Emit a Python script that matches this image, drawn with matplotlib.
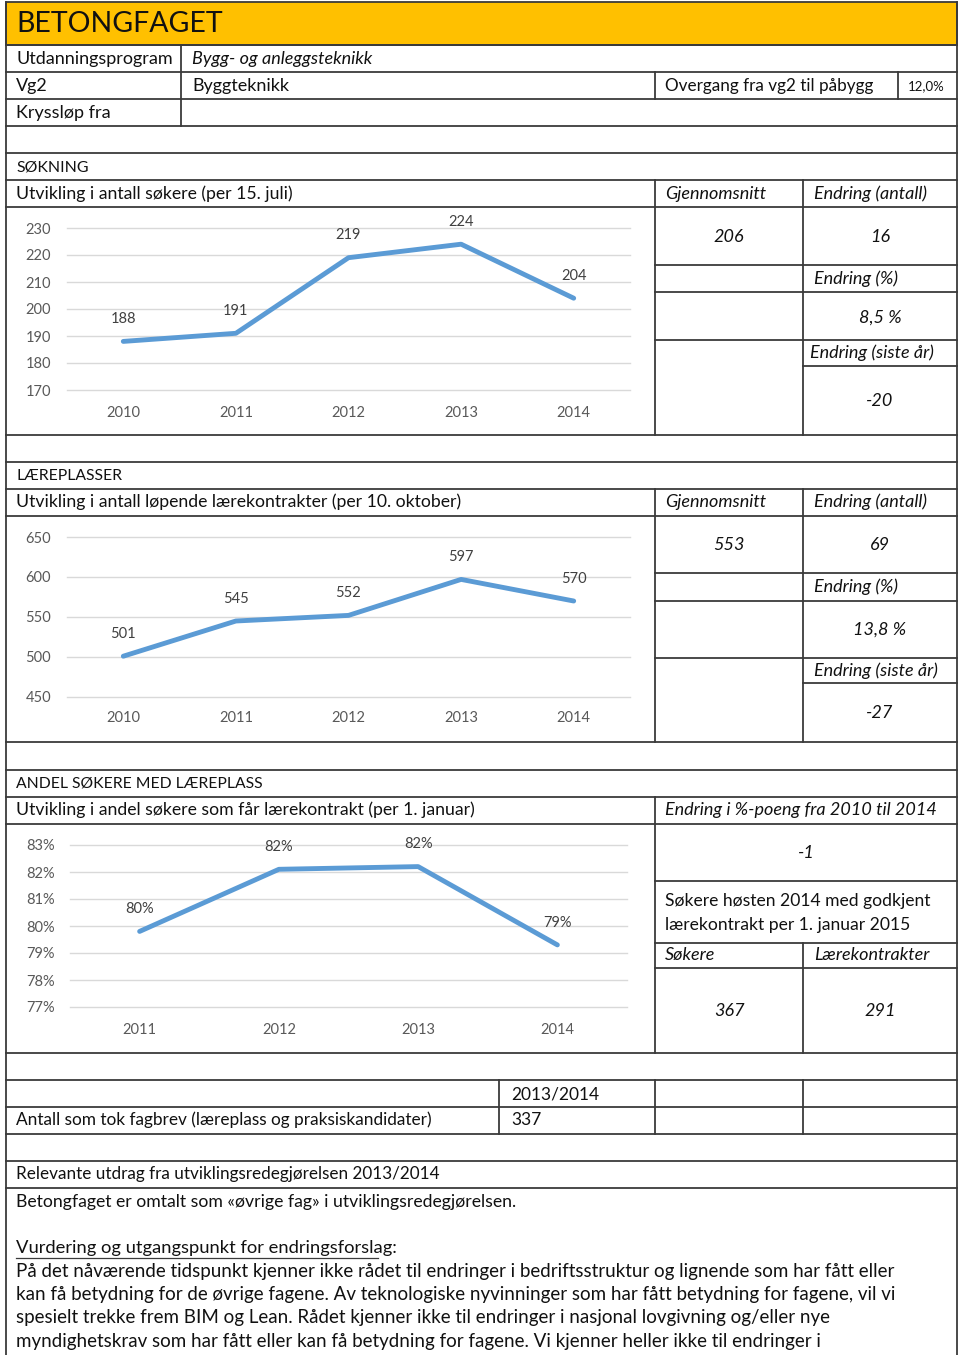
import matplotlib
matplotlib.use('Agg')
import numpy as np
import matplotlib.pyplot as plt
from matplotlib.patches import Rectangle
from matplotlib.ticker import FuncFormatter

plt.rcParams['font.family'] = ['Lato', 'DejaVu Sans']

# --- data ---
sok_years = ['2010', '2011', '2012', '2013', '2014']
sok_values = [188, 191, 219, 224, 204]
sok_stats = ['206', '16', '8,5 %', '-20']

lar_years = ['2010', '2011', '2012', '2013', '2014']
lar_values = [501, 545, 552, 597, 570]
lar_stats = ['553', '69', '13,8 %', '-27']

andel_years = ['2011', '2012', '2013', '2014']
andel_values = [0.798, 0.821, 0.822, 0.793]
andel_change = '-1'
andel_sokere = '367'
andel_kontrakter = '291'

fagbrev_year = '2013/2014'
fagbrev_count = '337'
overgang = '12,0%'

paragraph = [
    'På det nåværende tidspunkt kjenner ikke rådet til endringer i bedriftsstruktur og lignende som har fått eller',
    'kan få betydning for de øvrige fagene. Av teknologiske nyvinninger som har fått betydning for fagene, vil vi',
    'spesielt trekke frem BIM og Lean. Rådet kjenner ikke til endringer i nasjonal lovgivning og/eller nye',
    'myndighetskrav som har fått eller kan få betydning for fagene. Vi kjenner heller ikke til endringer i',
]

W, H = 960, 1355
LC = '#3a3a3a'
BLUE = '#5B9BD5'
FS = 13

fig = plt.figure(figsize=(9.6, 13.55), dpi=100)
base = fig.add_axes([0, 0, 1, 1])
base.set_xlim(0, W)
base.set_ylim(H, 0)
base.axis('off')


def hl(y, x0=6, x1=957, lw=1.3):
    base.plot([x0, x1], [y, y], color=LC, lw=lw, solid_capstyle='projecting')


def vl(x, y0, y1, lw=1.3):
    base.plot([x, x], [y0, y1], color=LC, lw=lw, solid_capstyle='projecting')


def txt(x, y, s, size=FS, style='normal', ha='left', **kw):
    base.text(x, y, s, fontsize=size, style=style, ha=ha, va='center', color='#111111', **kw)


def chart(x0, x1, y0, y1, cats, vals, lo, hi, step, fmt, pad):
    ax = fig.add_axes([x0 / W, 1 - y1 / H, (x1 - x0) / W, (y1 - y0) / H])
    xs = np.arange(len(cats))
    ax.plot(xs, vals, color=BLUE, lw=3.5, solid_capstyle='round',
            solid_joinstyle='round', zorder=3)
    ax.set_xlim(-0.5, len(cats) - 0.5)
    ax.set_ylim(lo, hi)
    ax.set_yticks(np.arange(lo, hi + step / 2, step))
    ax.yaxis.set_major_formatter(fmt)
    ax.set_xticks(xs)
    ax.set_xticklabels(cats)
    ax.grid(axis='y', color='#D9D9D9', lw=1)
    for g in ax.get_ygridlines():
        g.set_clip_on(False)
    for s in ax.spines.values():
        s.set_visible(False)
    ax.tick_params(axis='y', length=0, labelsize=10.5, colors='#595959', pad=pad[0])
    ax.tick_params(axis='x', length=0, labelsize=10.5, colors='#595959', pad=pad[1])
    ax.patch.set_alpha(0)
    for x, v in zip(xs, vals):
        ax.annotate(fmt(v, None), (x, v), xytext=(0, 16), textcoords='offset points',
                    ha='center', va='center', fontsize=10.5, color='#404040')
    return ax


# header
base.add_patch(Rectangle((6, 2), 951, 43, facecolor='#FFC000', edgecolor=LC, lw=1.3))
txt(16, 24, 'BETONGFAGET', size=20.5)

# top rows
for y in [45, 72, 99, 126, 153, 180, 207]:
    hl(y)
vl(181, 45, 126)
vl(655, 72, 99)
vl(898, 72, 99)
txt(16, 59, 'Utdanningsprogram')
txt(192, 59, 'Bygg- og anleggsteknikk', style='italic')
txt(16, 86, 'Vg2')
txt(192, 86, 'Byggteknikk')
txt(665, 86, 'Overgang fra vg2 til påbygg', size=12.3)
txt(908, 86, overgang, size=9.5)
txt(16, 113, 'Kryssløp fra')

# SØKNING
txt(16, 167, 'SØKNING', size=11.4)
txt(16, 194, 'Utvikling i antall søkere (per 15. juli)', size=12.7)
txt(665, 194, 'Gjennomsnitt', style='italic')
txt(814, 194, 'Endring (antall)', style='italic')
vl(655, 180, 435)
vl(803, 180, 435)
for y in [265, 292, 340]:
    hl(y, 655, 957)
hl(366, 803, 957)
hl(435)
txt(729, 237, sok_stats[0], style='italic', ha='center')
txt(880, 237, sok_stats[1], style='italic', ha='center')
txt(814, 279, 'Endring (%)', style='italic')
txt(880, 318, sok_stats[2], style='italic', ha='center')
txt(810, 353, 'Endring (siste år)', style='italic')
txt(880, 401, sok_stats[3], style='italic', ha='center')
chart(67, 630, 228, 390, sok_years, sok_values, 170, 230, 10,
      FuncFormatter(lambda v, p: f'{v:.0f}'), (11.5, 11.5))

# LÆREPLASSER
for y in [462, 489, 516]:
    hl(y)
txt(16, 476, 'LÆREPLASSER', size=11.3)
txt(16, 502, 'Utvikling i antall løpende lærekontrakter (per 10. oktober)', size=12.7)
txt(665, 502, 'Gjennomsnitt', style='italic')
txt(814, 502, 'Endring (antall)', style='italic')
vl(655, 489, 742)
vl(803, 489, 742)
for y in [573, 601, 658]:
    hl(y, 655, 957)
hl(683, 803, 957)
hl(742)
txt(729, 545, lar_stats[0], style='italic', ha='center')
txt(880, 545, lar_stats[1], style='italic', ha='center')
txt(814, 587, 'Endring (%)', style='italic')
txt(880, 630, lar_stats[2], style='italic', ha='center')
txt(814, 671, 'Endring (siste år)', style='italic')
txt(880, 713, lar_stats[3], style='italic', ha='center')
chart(67, 630, 537, 697, lar_years, lar_values, 450, 650, 50,
      FuncFormatter(lambda v, p: f'{v:.0f}'), (11.5, 10))

# ANDEL SØKERE MED LÆREPLASS
for y in [770, 797, 824]:
    hl(y)
txt(16, 783, 'ANDEL SØKERE MED LÆREPLASS', size=11.3)
txt(16, 810, 'Utvikling i andel søkere som får lærekontrakt (per 1. januar)', size=12.7)
txt(665, 810, 'Endring i %-poeng fra 2010 til 2014', style='italic')
vl(655, 797, 1053)
vl(803, 943, 1053)
for y in [881, 943, 968]:
    hl(y, 655, 957)
hl(1053)
txt(806, 853, andel_change, style='italic', ha='center')
txt(665, 901, 'Søkere høsten 2014 med godkjent', size=12.6)
txt(665, 925, 'lærekontrakt per 1. januar 2015', size=12.6)
txt(665, 955, 'Søkere', style='italic')
txt(814, 955, 'Lærekontrakter', style='italic')
txt(729, 1011, andel_sokere, style='italic', ha='center')
txt(880, 1011, andel_kontrakter, style='italic', ha='center')
chart(70, 627, 845, 1007, andel_years, andel_values, 0.77, 0.83, 0.01,
      FuncFormatter(lambda v, p: f'{v * 100:.0f}%'), (11, 11.5))

# fagbrev
for y in [1080, 1107, 1134, 1161, 1188]:
    hl(y)
vl(499, 1080, 1134)
vl(655, 1080, 1134)
vl(803, 1080, 1134)
txt(511, 1094, fagbrev_year, size=12.5)
txt(16, 1120, 'Antall som tok fagbrev (læreplass og praksiskandidater)', size=12.4)
txt(511, 1120, fagbrev_count, size=12.5)

# utviklingsredegjørelsen
txt(16, 1174, 'Relevante utdrag fra utviklingsredegjørelsen 2013/2014', size=12.3)
txt(16, 1202, 'Betongfaget er omtalt som «øvrige fag» i utviklingsredegjørelsen.', size=12.7)
txt(16, 1248, 'Vurdering og utgangspunkt for endringsforslag:', size=13.2)
hl(1258, 16, 378, lw=0.9)
for i, line in enumerate(paragraph):
    txt(16, 1271 + i * 23.4, line, size=13.5)

# outer frame
vl(6, 2, H)
vl(957, 2, H)

fig.savefig('out.png', dpi=100)
